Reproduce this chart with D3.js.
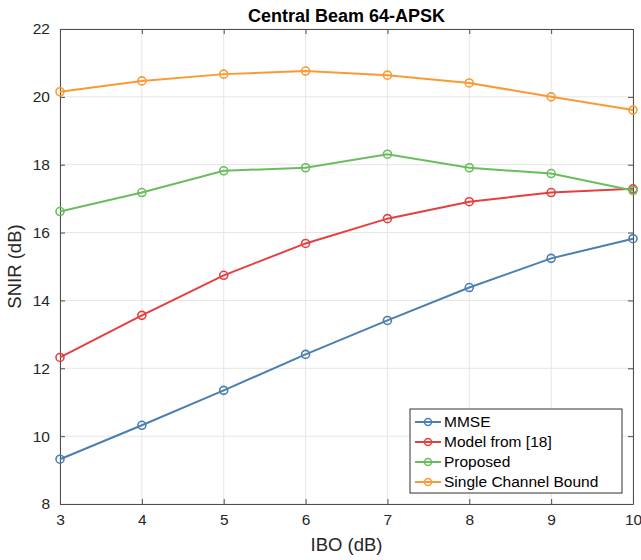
<!DOCTYPE html>
<html lang="en">
<head>
  <meta charset="UTF-8" />
  <title>Central Beam 64-APSK</title>
  <script src="https://d3js.org/d3.v7.min.js"></script>
  <style>
    body { margin: 0; background: #fff; font-family: "Liberation Sans", Arial, Helvetica, sans-serif; }
    .grid line { stroke: #e5e5e5; stroke-width: 1; }
    .axis path, .axis line { stroke: #4d4d4d; }
    .axis text { font-size: 15.5px; fill: #262626; }
  </style>
</head>
<body>
  <div id="chart"></div>
  <script>
    const ibo = [3, 4, 5, 6, 7, 8, 9, 10];
    const mmse     = [9.32, 10.32, 11.35, 12.41, 13.41, 14.38, 15.24, 15.82];
    const model18  = [12.32, 13.56, 14.74, 15.68, 16.41, 16.91, 17.18, 17.29];
    const proposed = [16.62, 17.18, 17.82, 17.91, 18.31, 17.91, 17.74, 17.24];
    const bound    = [20.15, 20.47, 20.67, 20.76, 20.64, 20.41, 20.0, 19.61];
    const xTicks = [3, 4, 5, 6, 7, 8, 9, 10];
    const yTicks = [8, 10, 12, 14, 16, 18, 20, 22];

    const series = [
      { name: 'MMSE', values: mmse, color: '#4b7fb1' },
      { name: 'Model from [18]', values: model18, color: '#e63f40' },
      { name: 'Proposed', values: proposed, color: '#6abd5d' },
      { name: 'Single Channel Bound', values: bound, color: '#fa9a30' }
    ];

    const W = 641, H = 560;
    const margin = { top: 29, right: 8, bottom: 55, left: 60 };
    const width = W - margin.left - margin.right;
    const height = H - margin.top - margin.bottom - 1;

    const root = d3.select('#chart').append('svg')
      .attr('width', W).attr('height', H);
    const svg = root.append('g')
      .attr('transform', `translate(${margin.left},${margin.top})`);

    const x = d3.scaleLinear().domain([3, 10]).range([0, width]);
    const y = d3.scaleLinear().domain([8, 22]).range([height, 0]);

    // grid
    svg.append('g').attr('class', 'grid')
      .selectAll('line.v').data(xTicks).join('line')
      .attr('x1', d => x(d)).attr('x2', d => x(d))
      .attr('y1', 0).attr('y2', height);
    svg.append('g').attr('class', 'grid')
      .selectAll('line.h').data(yTicks).join('line')
      .attr('x1', 0).attr('x2', width)
      .attr('y1', d => y(d)).attr('y2', d => y(d));

    // axes, ticks pointing inward
    svg.append('g').attr('class', 'axis')
      .attr('transform', `translate(0,${height})`)
      .call(d3.axisBottom(x).tickValues(xTicks).tickFormat(d3.format('d'))
        .tickSizeInner(-5).tickSizeOuter(0).tickPadding(10));
    svg.append('g').attr('class', 'axis')
      .call(d3.axisLeft(y).tickValues(yTicks).tickFormat(d3.format('d'))
        .tickSizeInner(-5).tickSizeOuter(0).tickPadding(10));
    svg.append('g').attr('class', 'axis')
      .call(d3.axisTop(x).tickValues(xTicks).tickSizeInner(-5).tickSizeOuter(0).tickFormat(''));
    svg.append('g').attr('class', 'axis')
      .attr('transform', `translate(${width},0)`)
      .call(d3.axisRight(y).tickValues(yTicks).tickSizeInner(-5).tickSizeOuter(0).tickFormat(''));

    const line = d3.line()
      .x((d, i) => x(ibo[i]))
      .y(d => y(d));

    series.forEach(s => {
      svg.append('path')
        .datum(s.values)
        .attr('fill', 'none')
        .attr('stroke', s.color)
        .attr('stroke-width', 2)
        .attr('d', line);
      svg.selectAll(null)
        .data(s.values)
        .join('circle')
        .attr('cx', (d, i) => x(ibo[i]))
        .attr('cy', d => y(d))
        .attr('r', 4)
        .attr('fill', 'none')
        .attr('stroke', s.color)
        .attr('stroke-width', 1.6);
    });

    // title and labels
    root.append('text')
      .attr('x', margin.left + width / 2).attr('y', 22)
      .attr('text-anchor', 'middle')
      .attr('font-size', '18px').attr('font-weight', 'bold').attr('fill', '#000')
      .text('Central Beam 64-APSK');
    root.append('text')
      .attr('x', margin.left + width / 2).attr('y', 551)
      .attr('text-anchor', 'middle')
      .attr('font-size', '18.5px').attr('fill', '#262626')
      .text('IBO (dB)');
    root.append('text')
      .attr('transform', `translate(15,${margin.top + height / 2}) rotate(-90)`)
      .attr('text-anchor', 'middle').attr('dy', '0.35em')
      .attr('font-size', '18.5px').attr('fill', '#262626')
      .text('SNIR (dB)');

    // legend
    const lg = root.append('g').attr('transform', 'translate(410,409)');
    lg.append('rect')
      .attr('width', 212).attr('height', 84)
      .attr('fill', '#fff').attr('stroke', '#333').attr('stroke-width', 1);
    series.forEach((s, i) => {
      const ly = 13 + i * 20;
      lg.append('line')
        .attr('x1', 5).attr('x2', 31).attr('y1', ly).attr('y2', ly)
        .attr('stroke', s.color).attr('stroke-width', 2);
      lg.append('circle')
        .attr('cx', 18).attr('cy', ly).attr('r', 3.5)
        .attr('fill', 'none').attr('stroke', s.color).attr('stroke-width', 1.5);
      lg.append('text')
        .attr('x', 34).attr('y', ly).attr('dy', '0.35em')
        .attr('font-size', '15.5px').attr('fill', '#000')
        .text(s.name);
    });
  </script>
</body>
</html>
